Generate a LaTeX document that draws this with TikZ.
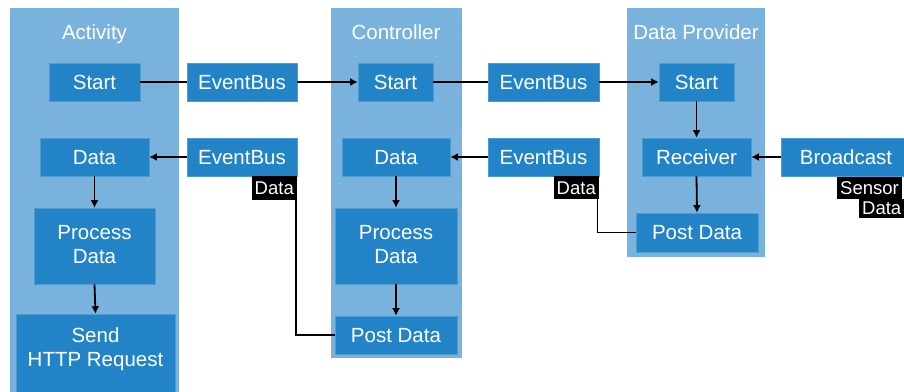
\documentclass[tikz,border=0pt]{standalone}
\usepackage{fontspec}
\setmainfont{Liberation Sans}
\usetikzlibrary{arrows.meta}
\definecolor{lightbl}{RGB}{122,178,222}
\definecolor{darkbl}{RGB}{34,132,198}
\begin{document}
\begin{tikzpicture}[x=1pt,y=-1pt,
  box/.style={fill=darkbl,draw=darkbl!80!white,line width=0.6pt,text=white,inner sep=0pt,
    minimum height=38pt,align=center,font=\fontsize{20.5pt}{24pt}\selectfont},
  one/.style={text height=14.5pt,text depth=0pt},
  title/.style={text=white,inner sep=0pt,font=\fontsize{20.5pt}{24pt}\selectfont,text height=14.5pt,text depth=0pt},
  lbl/.style={fill=black,text=white,inner xsep=3pt,inner ysep=0pt,font=\fontsize{18.5pt}{20pt}\selectfont,text height=13.5pt,text depth=0pt},
  conn/.style={line width=1.8pt,draw=black},
  arr/.style={conn,-{Latex[length=7.5pt,width=8pt]}}
]
\useasboundingbox (0,0) rectangle (904,391);
% containers
\fill[lightbl] (10,8) rectangle (179,395);
\fill[lightbl] (331,8) rectangle (462,358);
\fill[lightbl] (627,8) rectangle (765,257);
\node[title] (tA) at (94.5,32) {Activity};
\node[title] (tC) at (396,32) {Controller};
\node[title] (tP) at (696,32) {Data Provider};
% Activity
\node[box,one,minimum width=91pt] (aStart) at (94.5,82) {Start};
\node[box,one,minimum width=109pt] (aData) at (94.5,157) {Data};
\node[box,minimum width=121pt,minimum height=76pt,text depth=2.7pt] (aProc) at (94.5,246) {Process\\Data};
\node[box,minimum width=159pt,minimum height=79pt,text depth=13.7pt] (aSend) at (95.5,353.5) {Send\\HTTP Request};
% EventBus
\node[box,one,minimum width=110pt] (eb1) at (242,82) {EventBus};
\node[box,one,minimum width=110pt] (eb2) at (242,157) {EventBus};
\node[lbl,anchor=north east,minimum height=24pt] (l1) at (297,176) {Data};
\node[box,one,minimum width=111pt] (eb3) at (543.5,82) {EventBus};
\node[box,one,minimum width=111pt] (eb4) at (543.5,157) {EventBus};
\node[lbl,anchor=north east,minimum height=23pt] (l2) at (599,176) {Data};
% Controller
\node[box,one,minimum width=75pt] (cStart) at (395.5,82) {Start};
\node[box,one,minimum width=108pt] (cData) at (396,157) {Data};
\node[box,minimum width=122pt,minimum height=76pt,text depth=2.7pt] (cProc) at (396,246) {Process\\Data};
\node[box,one,minimum width=122pt] (cPost) at (396,335) {Post Data};
% Data Provider
\node[box,one,minimum width=75pt] (pStart) at (696.5,82) {Start};
\node[box,one,minimum width=109pt] (pRecv) at (696.5,157) {Receiver};
\node[box,one,minimum width=122pt,minimum height=39pt] (pPost) at (697,232.5) {Post Data};
\node[box,one,minimum width=130pt] (bc) at (846,157) {Broadcast};
\node[lbl,anchor=north west,minimum height=22pt] (s1) at (837,177) {Sensor};
\node[lbl,anchor=north west,minimum height=19pt,text height=12.5pt] (s2) at (859,199) {Data};
% connectors
\draw[conn] (aStart.east) -- (eb1.west);
\draw[arr] (eb1.east) -- (cStart.west);
\draw[conn] (cStart.east) -- (eb3.west);
\draw[arr] (eb3.east) -- (pStart.west);
\draw[arr] (pStart.south) -- (pRecv.north);
\draw[arr] (bc.west) -- (pRecv.east);
\draw[arr] (pRecv.south) -- (pPost.north);
\draw[conn] (pPost.west) -| ([xshift=-1.5pt]l2.south east);
\draw[arr] (eb4.west) -- (cData.east);
\draw[arr] (cData.south) -- (cProc.north);
\draw[arr] (cProc.south) -- (cPost.north);
\draw[conn] (cPost.west) -| ([xshift=-1pt]l1.south east);
\draw[arr] (eb2.west) -- (aData.east);
\draw[arr] (aData.south) -- (aProc.north);
\draw[arr] (aProc.south) -- (aSend.north);
\end{tikzpicture}
\end{document}
